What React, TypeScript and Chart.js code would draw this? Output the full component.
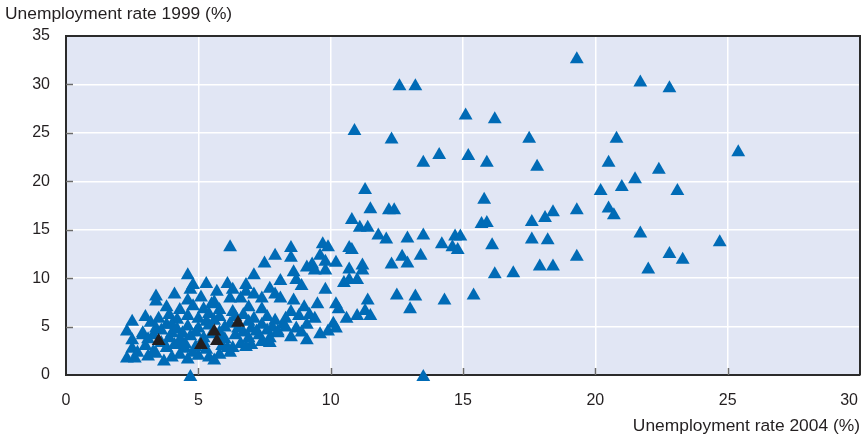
import { useEffect, useRef } from "react";
import { Chart, registerables } from "chart.js";

Chart.register(...registerables);

const yAxisTitle = "Unemployment rate 1999 (%)";
const xAxisTitle = "Unemployment rate 2004 (%)";
const xRange = [0, 30];
const yRange = [0, 35];
const tickStep = 5;

// [unemployment rate 2004, unemployment rate 1999]
const highlightedPoints: [number, number][] = [
  [3.5, 3.5], [5.1, 3.1], [5.6, 4.5], [5.7, 3.5], [6.5, 5.4],
];

const outerPoints: [number, number][] = [
  [19.3, 32.6], [12.6, 29.8], [13.2, 29.8], [21.7, 30.2], [22.8, 29.6],
  [15.1, 26.8], [16.2, 26.4], [10.9, 25.2], [12.3, 24.3], [17.5, 24.4],
  [20.8, 24.4], [25.4, 23.0], [14.1, 22.7], [15.2, 22.6], [13.5, 21.9],
  [15.9, 21.9], [20.5, 21.9], [17.8, 21.5], [22.4, 21.2], [21.5, 20.2],
  [21.0, 19.4], [20.2, 19.0], [23.1, 19.0], [11.3, 19.1], [15.8, 18.1],
  [11.5, 17.1], [12.2, 17.0], [12.4, 17.0], [19.3, 17.0], [20.5, 17.2],
  [18.4, 16.8], [20.7, 16.5], [18.1, 16.2], [10.8, 16.0], [17.6, 15.8],
  [15.7, 15.6], [15.9, 15.7], [11.1, 15.2], [11.4, 15.2], [21.7, 14.6],
  [11.8, 14.4], [12.1, 14.0], [13.5, 14.4], [14.7, 14.3], [14.9, 14.3],
  [12.9, 14.1], [17.6, 14.0], [18.2, 13.9], [24.7, 13.7], [14.2, 13.5],
  [16.1, 13.4], [14.6, 13.2], [14.8, 12.9], [22.8, 12.5], [13.4, 12.3],
  [12.7, 12.2], [19.3, 12.2], [23.3, 11.9], [12.3, 11.4], [12.9, 11.5],
  [17.9, 11.2], [18.4, 11.2], [22.0, 10.9], [16.2, 10.4], [16.9, 10.5],
  [12.5, 8.2], [13.2, 8.1], [15.4, 8.2], [14.3, 7.7], [13.0, 6.8],
  [13.5, -0.2], [4.7, -0.2],
];

const middlePoints: [number, number][] = [
  [6.2, 13.2], [9.7, 13.5], [9.9, 13.2], [10.7, 13.1], [10.8, 12.9],
  [8.5, 13.1], [7.9, 12.3], [8.5, 12.1], [9.6, 12.3], [7.5, 11.5],
  [9.8, 11.7], [10.2, 11.6], [9.3, 11.4], [11.2, 11.3], [9.1, 11.1],
  [9.4, 10.8], [9.8, 10.8], [10.7, 10.9], [11.2, 10.8], [8.6, 10.6],
  [7.1, 10.3], [4.6, 10.3], [10.7, 9.8], [11.0, 9.8], [8.7, 9.8],
  [8.1, 9.7], [10.5, 9.5], [8.9, 9.2], [9.8, 8.8], [11.4, 7.7],
  [11.3, 6.6], [11.0, 6.1], [11.5, 6.1],
];

const clusterPoints: [number, number][] = [
  [2.3, 1.7], [2.6, 1.7], [3.1, 1.9], [3.7, 1.4], [4.0, 1.8], [4.3, 2.1],
  [4.6, 1.6], [5.0, 2.0], [5.4, 1.8], [5.8, 2.1], [6.2, 2.3], [4.8, 2.3],
  [3.4, 2.2], [5.6, 1.5],
  [2.5, 2.7], [3.0, 3.0], [3.3, 2.4], [3.8, 2.8], [4.1, 3.1], [4.5, 2.7],
  [4.9, 2.9], [5.3, 2.6], [5.9, 3.0], [6.3, 2.8], [6.6, 3.2], [7.0, 3.1],
  [7.4, 3.4], [4.4, 3.3], [3.6, 3.3],
  [2.5, 3.6], [2.9, 4.1], [3.3, 4.1], [3.9, 3.8], [4.3, 3.6], [4.7, 4.0],
  [5.2, 3.8], [5.5, 4.2], [6.0, 3.7], [6.4, 4.1], [6.9, 3.8], [7.3, 4.1],
  [7.7, 3.8], [8.0, 4.3], [8.5, 3.9], [9.1, 3.6], [9.6, 4.2], [4.0, 4.3],
  [6.7, 4.4], [5.8, 4.4],
  [2.3, 4.5], [2.9, 4.3], [3.4, 4.8], [3.8, 5.2], [4.2, 4.7], [4.6, 5.0],
  [5.0, 4.8], [5.4, 5.1], [6.0, 4.9], [6.2, 5.3], [7.0, 4.8], [7.4, 5.2],
  [7.8, 4.9], [8.0, 4.5], [8.2, 5.2], [8.7, 4.8], [9.1, 5.2], [9.9, 4.5],
  [10.2, 4.8], [10.1, 5.3], [7.6, 4.6],
  [2.5, 5.5], [3.0, 6.0], [3.5, 5.8], [4.2, 5.7], [4.6, 6.1], [5.0, 5.8],
  [5.3, 5.5], [5.8, 6.0], [6.7, 6.2], [7.1, 5.8], [7.6, 6.0], [8.3, 5.8],
  [8.8, 6.1], [9.2, 6.2], [9.4, 5.8], [10.6, 5.8],
  [3.8, 7.0], [4.3, 6.7], [4.8, 7.1], [5.2, 6.8], [5.8, 6.7], [6.3, 6.5],
  [6.9, 7.0], [7.4, 6.8], [8.5, 6.5], [9.0, 7.0], [9.5, 7.3], [10.2, 7.3],
  [10.3, 6.8], [5.5, 7.3],
  [3.4, 7.6], [3.4, 8.1], [4.1, 8.3], [4.6, 7.7], [5.1, 8.0], [5.6, 7.5],
  [6.2, 7.9], [6.6, 7.9], [7.1, 8.3], [7.4, 7.9], [7.9, 8.3], [8.1, 7.9],
  [8.6, 7.7],
  [4.7, 8.8], [4.8, 9.3], [5.3, 9.4], [6.1, 9.4], [6.3, 8.8], [6.8, 9.3],
  [6.8, 8.6], [7.7, 8.9], [5.7, 8.6],
  [3.2, 5.4], [3.9, 6.2], [4.4, 4.3], [4.9, 4.4], [5.6, 5.6], [6.5, 4.8],
  [6.9, 5.5], [7.2, 4.5], [5.9, 3.9], [3.6, 4.6], [4.5, 3.2], [5.2, 3.3],
  [6.1, 2.8], [6.8, 2.9], [8.3, 4.9], [8.9, 4.4], [7.9, 5.6], [6.4, 6.0],
  [5.4, 6.3], [4.0, 5.2], [3.1, 3.7], [2.7, 2.3], [7.7, 3.3],
];

const BLUE = "#006bb6";
const BLACK = "#231f20";
const PLOT_BG = "#e1e6f4";
const FRAME = "#2b2b2b";
const TEXT = "#231f20";
const FONT = "'Liberation Sans', Arial, sans-serif";

const toXY = (pts: [number, number][]) => pts.map(([x, y]) => ({ x, y }));

const framePlugin = {
  id: "frameAndBackground",
  beforeDraw(chart: any) {
    const { ctx, chartArea: a } = chart;
    ctx.save();
    ctx.fillStyle = PLOT_BG;
    ctx.fillRect(a.left, a.top, a.right - a.left, a.bottom - a.top);
    ctx.restore();
    const xs: any = chart.scales.x;
    if (xs && !xs.__patched && typeof xs._computeLabelItems === "function") {
      const orig = xs._computeLabelItems;
      xs._computeLabelItems = function (ca: any) {
        const items = orig.call(this, ca);
        const last = items[items.length - 1];
        if (last && last.options) {
          last.options.textAlign = "right";
          last.options.translation = [
            last.options.translation[0] - 2,
            last.options.translation[1],
          ];
        }
        return items;
      };
      xs.__patched = true;
      xs._labelItems = null;
    }
  },
  beforeDatasetsDraw(chart: any) {
    const { ctx, chartArea: a, scales } = chart;
    ctx.save();
    ctx.strokeStyle = "#6b6b6b";
    ctx.lineWidth = 1.5;
    ctx.beginPath();
    for (let v = yRange[0] + tickStep; v < yRange[1]; v += tickStep) {
      const py = Math.round(scales.y.getPixelForValue(v)) + 0.5;
      ctx.moveTo(a.left, py);
      ctx.lineTo(a.left + 7, py);
    }
    for (let v = xRange[0] + tickStep; v < xRange[1]; v += tickStep) {
      const px = Math.round(scales.x.getPixelForValue(v)) + 0.5;
      ctx.moveTo(px, a.bottom);
      ctx.lineTo(px, a.bottom - 7);
    }
    ctx.stroke();
    ctx.strokeStyle = FRAME;
    ctx.lineWidth = 2;
    ctx.beginPath();
    ctx.moveTo(a.left, a.top);
    ctx.lineTo(a.right, a.top);
    ctx.lineTo(a.right, a.bottom);
    ctx.stroke();
    ctx.restore();
  },
};

export default function App() {
  const canvasRef = useRef<HTMLCanvasElement | null>(null);

  useEffect(() => {
    const canvas = canvasRef.current;
    if (!canvas) return;
    Chart.defaults.font.family = FONT;
    const chart = new Chart(canvas, {
      type: "scatter",
      data: {
        datasets: [
          {
            label: "highlighted",
            data: toXY(highlightedPoints),
            pointStyle: "triangle",
            radius: 8,
            backgroundColor: BLACK,
            borderWidth: 0,
            clip: false,
          } as any,
          {
            label: "countries",
            data: toXY([...outerPoints, ...middlePoints, ...clusterPoints]),
            pointStyle: "triangle",
            radius: 8,
            backgroundColor: BLUE,
            borderWidth: 0,
            clip: false,
          } as any,
        ],
      },
      plugins: [framePlugin],
      options: {
        animation: false,
        responsive: false,
        events: [],
        layout: { autoPadding: false, padding: { left: 5, right: 4, top: 0, bottom: 0 } },
        plugins: {
          legend: { display: false },
          tooltip: { enabled: false },
          title: {
            display: true,
            text: yAxisTitle,
            align: "start",
            color: TEXT,
            font: { size: 17.4, weight: "normal", family: FONT },
            padding: { top: 4, bottom: 11.1 },
          },
        },
        scales: {
          x: {
            type: "linear",
            min: xRange[0],
            max: xRange[1],
            afterFit: (s: any) => {
              s.height = 68;
              s.paddingRight = 0;
            },
            ticks: {
              stepSize: tickStep,
              color: TEXT,
              font: { size: 16, family: FONT },
              padding: 16,
            },
            grid: { color: "#ffffff", lineWidth: 1.5, drawTicks: false },
            border: { display: true, color: FRAME, width: 2 },
            title: {
              display: true,
              text: xAxisTitle,
              align: "end",
              color: TEXT,
              font: { size: 17.4, family: FONT },
              padding: { top: 0, bottom: 6 },
            },
          },
          y: {
            type: "linear",
            min: yRange[0],
            max: yRange[1],
            afterFit: (s: any) => {
              s.width = 61;
            },
            ticks: {
              stepSize: tickStep,
              color: TEXT,
              font: { size: 16, family: FONT },
              padding: 16,
            },
            grid: { color: "#ffffff", lineWidth: 1.5, drawTicks: false },
            border: { display: true, color: FRAME, width: 2 },
          },
        },
      } as any,
    });
    return () => chart.destroy();
  }, []);

  return (
    <div style={{ position: "absolute", left: 0, top: 0, width: 864, height: 443 }}>
      <canvas ref={canvasRef} width={864} height={443} />
    </div>
  );
}
